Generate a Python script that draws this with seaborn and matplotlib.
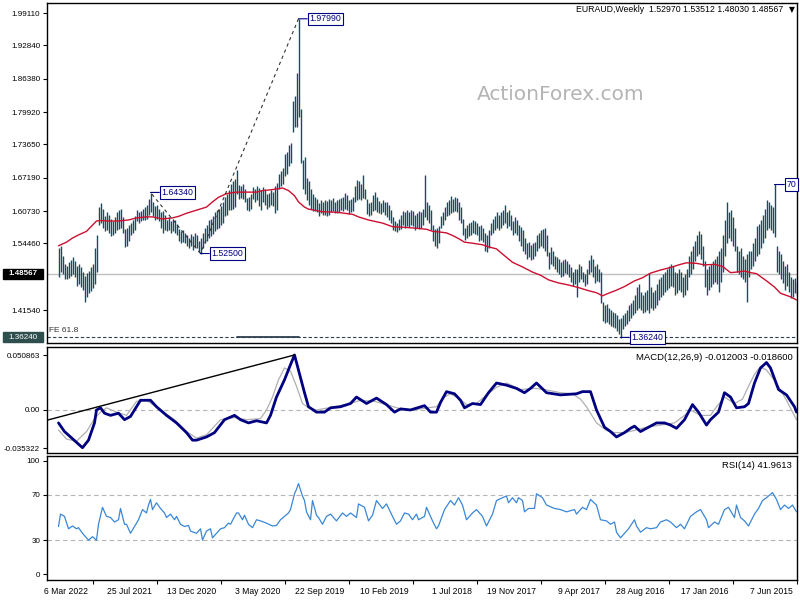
import numpy as np
import pandas as pd
import matplotlib
matplotlib.use("Agg")
import matplotlib.pyplot as plt
import matplotlib.transforms as mtrans
from matplotlib.patches import Rectangle
import seaborn as sns

# ---------------- data (weekly EURAUD, first bar = week of 7 Jun 2015) ----------------
start = pd.Timestamp("2015-06-07")

# weekly highs / lows in thousandths (1470 -> 1.470)
hi_k = [
    1470,1478,1475,1480,1490,1505,1500,1510,1525,1530,
    1540,1659,1615,1620,1625,1628,1612,1600,1590,1582,
    1578,1555,1545,1530,1530,1525,1515,1520,1535,1530,
    1540,1575,1595,1610,1605,1625,1590,1560,1535,1530,
    1520,1515,1510,1505,1500,1495,1510,1540,1562,1568,
    1560,1550,1540,1530,1520,1495,1485,1480,1490,1495,
    1488,1490,1500,1505,1500,1495,1490,1485,1480,1475,
    1465,1455,1450,1460,1487,1455,1450,1445,1450,1465,
    1460,1445,1435,1430,1425,1415,1410,1405,1400,1398,
    1405,1410,1412,1415,1420,1428,1425,1432,1490,1495,
    1505,1500,1515,1522,1512,1495,1485,1490,1500,1505,
    1495,1495,1490,1498,1505,1510,1515,1512,1508,1515,
    1518,1520,1530,1538,1528,1560,1575,1572,1570,1565,
    1560,1548,1545,1542,1548,1545,1555,1570,1576,1580,
    1590,1595,1588,1600,1610,1605,1619,1610,1605,1600,
    1605,1598,1592,1585,1570,1560,1565,1575,1580,1578,
    1585,1588,1590,1586,1584,1580,1575,1592,1615,1625,
    1632,1634,1630,1636,1628,1625,1615,1605,1598,1578,
    1575,1572,1580,1610,1620,1625,1677,1612,1605,1608,
    1603,1600,1608,1610,1606,1610,1605,1608,1600,1592,
    1585,1588,1595,1610,1620,1624,1625,1628,1622,1626,
    1635,1644,1638,1625,1622,1630,1650,1677,1660,1665,
    1668,1655,1635,1630,1628,1638,1642,1635,1632,1630,
    1628,1625,1632,1628,1630,1626,1628,1625,1628,1622,
    1630,1635,1640,1650,1665,1672,1712,1706,1805,1980,
    1875,1830,1820,1740,1735,1722,1718,1690,1685,1680,
    1662,1655,1645,1648,1642,1640,1650,1654,1648,1652,
    1655,1650,1653,1640,1635,1632,1650,1660,1655,1658,
    1687,1670,1665,1660,1648,1640,1635,1625,1618,1612,
    1609,1605,1598,1592,1590,1580,1575,1565,1555,1550,
    1560,1565,1558,1562,1555,1560,1565,1570,1568,1572,
    1582,1590,1592,1588,1595,1590,1600,1608,1605,1612,
    1620,1618,1625,1643,1630,1620,1615,1612,1608,1605,
    1610,1598,1590,1585,1580,1575,1572,1595,1612,1610,
    1605,1595,1588,1592,1600,1605,1598,1612,1622,1615,
    1560,1535,1505,1498,1492,1488,1482,1490,1498,1505,
    1500,1510,1518,1512,1508,1500,1505,1520,1540,1535,
]
lo_k = [
    1445,1448,1440,1438,1450,1462,1455,1468,1475,1485,
    1490,1557,1565,1570,1575,1570,1555,1545,1535,1525,
    1520,1510,1500,1495,1480,1432,1470,1475,1480,1485,
    1490,1530,1540,1550,1555,1545,1520,1490,1470,1450,
    1465,1470,1465,1460,1455,1445,1460,1500,1515,1525,
    1520,1510,1495,1485,1480,1455,1445,1440,1450,1455,
    1448,1445,1460,1462,1458,1455,1450,1445,1440,1435,
    1425,1420,1415,1420,1410,1415,1412,1410,1415,1420,
    1415,1410,1405,1400,1395,1388,1385,1378,1362,1370,
    1375,1380,1382,1385,1388,1392,1390,1395,1430,1470,
    1472,1468,1480,1490,1485,1465,1462,1470,1475,1470,
    1440,1465,1462,1470,1480,1485,1488,1482,1480,1485,
    1490,1495,1500,1505,1495,1520,1530,1535,1540,1535,
    1530,1520,1515,1512,1518,1515,1525,1530,1540,1550,
    1560,1565,1560,1570,1578,1575,1585,1580,1575,1570,
    1575,1570,1565,1560,1535,1528,1530,1548,1552,1550,
    1560,1562,1565,1560,1558,1555,1552,1560,1585,1590,
    1605,1608,1605,1603,1600,1598,1590,1580,1575,1545,
    1535,1540,1550,1570,1585,1590,1595,1580,1575,1572,
    1575,1570,1578,1580,1576,1578,1575,1580,1572,1570,
    1566,1568,1570,1585,1590,1595,1600,1605,1602,1604,
    1605,1610,1608,1600,1598,1602,1630,1632,1628,1630,
    1628,1625,1608,1605,1602,1610,1612,1608,1610,1606,
    1604,1603,1608,1605,1600,1598,1600,1600,1603,1598,
    1605,1608,1608,1612,1620,1628,1640,1650,1700,1790,
    1770,1770,1760,1700,1695,1680,1675,1660,1655,1650,
    1610,1603,1618,1620,1615,1612,1620,1625,1610,1618,
    1628,1625,1630,1612,1608,1610,1625,1630,1632,1630,
    1640,1615,1612,1610,1610,1600,1598,1585,1580,1575,
    1572,1568,1562,1558,1555,1550,1545,1535,1525,1528,
    1535,1538,1532,1540,1536,1540,1545,1548,1545,1550,
    1560,1565,1568,1565,1570,1568,1570,1565,1575,1588,
    1592,1590,1598,1605,1600,1592,1590,1590,1588,1585,
    1588,1570,1565,1560,1550,1540,1538,1565,1575,1572,
    1570,1565,1560,1558,1565,1570,1568,1575,1585,1580,
    1490,1465,1458,1452,1448,1440,1431,1455,1460,1465,
    1462,1480,1485,1482,1478,1475,1476,1485,1490,1480,
]

# moving average (red) read at selected weeks
ma_w = [0,3,8,11,15,20,23,26,30,33,37,41,46,50,55,58,63,68,73,77,81,86,90,94,97,
        100,104,109,114,119,124,128,132,137,142,147,150,154,157,162,166,169,172,175,179,
        182,185,190,197,202,207,214,219,222,230,237,244,246,249,251,254,257,260,264,267,
        270,274,280,285,289,292,295,300,305,309,312,317,322,325,330,334,339,344,348,350,
        352,355,359,362,365,369]
ma_v = [1.435,1.441,1.448,1.460,1.472,1.486,1.488,1.491,1.489,1.488,1.500,1.504,1.503,1.506,1.507,
        1.504,1.498,1.493,1.487,1.478,1.472,1.461,1.454,1.448,1.443,1.449,1.453,1.459,1.464,1.468,
        1.474,1.483,1.489,1.499,1.508,1.524,1.534,1.538,1.542,1.545,1.547,1.554,1.560,1.565,1.567,
        1.568,1.572,1.574,1.576,1.577,1.584,1.590,1.596,1.601,1.605,1.606,1.611,1.615,1.625,1.637,
        1.647,1.652,1.650,1.648,1.647,1.644,1.644,1.644,1.641,1.634,1.625,1.615,1.609,1.603,1.597,
        1.594,1.592,1.596,1.596,1.594,1.590,1.588,1.588,1.589,1.588,1.580,1.568,1.561,1.555,1.547,
        1.540]

# MACD(12,26,9) main line
macd_w = [0,1,5,9,13,15,18,21,24,26,30,33,36,39,43,45,49,52,56,60,63,66,70,75,78,81,83,86,90,93,
          96,100,103,107,110,118,125,130,133,136,140,145,150,154,158,162,166,168,171,175,178,180,
          183,186,193,198,201,205,210,215,220,223,228,233,236,240,244,246,249,251,253,256,260,263,
          265,270,274,278,281,286,291,295,300,302,305,310,315,320,323,328,330,333,336,339,343,346,
          348,350,351,354,357,360,363,366,369]
macd_v = [-0.002,0.003,0.014,0.019,0.039,0.044,0.039,0.025,0.006,0.003,0.002,0.012,0.016,-0.002,
          -0.009,-0.014,-0.002,0.005,-0.009,-0.017,-0.014,-0.012,-0.012,-0.017,-0.020,-0.015,-0.017,
          -0.021,-0.025,-0.020,-0.016,0.000,0.017,0.017,0.015,0.014,0.016,0.025,0.020,0.016,0.020,
          0.023,0.025,0.016,0.005,0.006,0.002,0.009,0.015,0.017,0.007,-0.002,-0.002,0.004,0.000,
          0.001,-0.002,0.005,0.011,0.006,0.012,0.006,0.003,0.002,-0.002,-0.002,0.003,0.016,0.037,
          0.051,0.042,0.028,0.012,-0.005,-0.012,-0.010,-0.012,-0.009,-0.005,-0.009,-0.021,-0.025,
          -0.028,-0.028,-0.021,-0.012,-0.005,0.003,0.009,0.009,0.003,-0.006,-0.009,-0.003,-0.005,
          -0.003,0.002,0.000,-0.012,-0.028,-0.035,-0.030,-0.025,-0.020,-0.012]

# MACD signal line
sig_w = [0,5,10,15,17,19,21,24,27,31,36,40,43,48,53,56,61,68,75,81,86,91,95,100,105,108,112,118,
         126,131,138,145,150,155,160,165,169,173,176,180,185,191,198,205,211,218,223,231,240,244,
         247,250,253,256,259,262,265,268,275,281,288,295,300,305,311,318,325,330,335,340,345,348,
         351,355,360,365,369]
sig_v = [-0.009,0.009,0.025,0.037,0.039,0.038,0.033,0.022,0.010,0.006,0.012,0.003,-0.005,-0.005,
         0.000,-0.005,-0.012,-0.014,-0.016,-0.019,-0.021,-0.021,-0.019,-0.012,0.003,0.010,0.015,
         0.016,0.019,0.020,0.019,0.025,0.021,0.014,0.006,0.005,0.011,0.015,0.012,0.003,0.002,
         0.000,0.001,0.005,0.008,0.009,0.006,0.003,0.000,0.002,0.006,0.022,0.036,0.039,0.028,
         0.012,0.000,-0.008,-0.009,-0.007,-0.009,-0.023,-0.026,-0.020,-0.009,0.000,0.009,0.008,
         -0.005,-0.002,0.002,-0.002,-0.008,-0.020,-0.029,-0.027,-0.0186]

# RSI(14)
rsi_w = [0,2,4,6,8,10,12,15,17,19,21,24,26,28,30,31,34,36,39,41,44,45,48,50,53,56,58,60,63,65,
         68,70,73,75,78,80,81,84,86,88,90,91,93,95,98,100,103,105,107,110,111,115,118,121,125,127,
         130,131,134,136,137,139,140,142,144,145,147,150,152,155,157,160,162,165,167,169,171,173,
         176,179,180,182,185,186,189,190,192,194,196,198,200,202,205,207,210,212,214,216,219,220,
         223,225,227,230,233,235,237,239,240,242,243,245,246,247,249,250,251,253,254,256,258,260,
         262,265,268,270,272,274,276,277,279,280,283,284,286,288,290,292,293,295,297,298,300,303,
         304,306,308,310,311,313,315,316,318,320,322,323,324,325,327,329,331,333,335,336,338,339,
         341,343,345,347,349,350,352,354,355,357,359,360,362,364,366,368,369]
rsi_v = [55,61,58,61,57,66,72,67.5,65,58,53,42.5,47,50,61,50,59,57,44,46,41,48,57,55,51,40,44,41,
         46,48,46,41,40,41,37,42.5,48,40,36,32,37,46,44,47,48,61,66,57,59,53,57,55,57,58,61,67.5,
         71,58,58,55,65,67.5,63,67.5,63,69,67.5,65,53,42.5,51,57,54,48,61,67.5,61,65,57,42.5,40,
         47,59,51,48,53,48,53,54,47,44,51,62,58,65,52,47,59,62,50,54,51,54,47,53,51,44,50,52,65,
         48,55,65,69,80,75,71,57,54,51,48,43,42.5,45,47,48,41,44,52,48,54,54,44,45,41,40,36,32,
         40,38,30,40,36,38,43,42,44,51,48,53,50,54,58,63,57,66,61,54,57,48,42,36,44,44,58,48,46,
         50,51,59,44,30,33,30,32,36,41,40,42.5,40,51,53,42]

tick_dates = ["2015-06-07", "2016-01-17", "2016-08-28", "2017-04-09", "2017-11-19", "2018-07-01",
              "2019-02-10", "2019-09-22", "2020-05-03", "2020-12-13", "2021-07-25", "2022-03-06"]
tick_labels = ["7 Jun 2015", "17 Jan 2016", "28 Aug 2016", "9 Apr 2017", "19 Nov 2017", "1 Jul 2018",
               "10 Feb 2019", "22 Sep 2019", "3 May 2020", "13 Dec 2020", "25 Jul 2021", "6 Mar 2022"]

price_ticks = [1.99110, 1.92840, 1.86380, 1.79920, 1.73650, 1.67190, 1.60730, 1.54460, 1.41540]
last_price = 1.48567
fe_level = 1.36240
peak = (249, 1.97990)
low_a = (298, 1.52500)
high_b = (323, 1.64340)
low_c = (88, 1.36240)
spike = (11, 1.65870)

# ---------------- styling ----------------
sns.set_theme(style="white")
plt.rcParams["font.family"] = ["Liberation Sans", "DejaVu Sans"]
plt.rcParams["axes.edgecolor"] = "black"
plt.rcParams["axes.linewidth"] = 1.0

BAR = "#1d4b5c"
MA_C = "#cc1030"
NAVY = "#000080"

hi = np.array(hi_k) / 1000.0
lo = np.array(lo_k) / 1000.0
week = np.arange(len(hi))

W, H = 800, 600
fig = plt.figure(figsize=(8, 6), dpi=100)
fig.patch.set_facecolor("white")


def rect(x0, y0, x1, y1):
    return [x0 / W, 1 - y1 / H, (x1 - x0) / W, (y1 - y0) / H]


ax1 = fig.add_axes(rect(47, 3, 797, 343))
ax2 = fig.add_axes(rect(47, 347, 797, 453))
ax3 = fig.add_axes(rect(47, 456, 797, 580))

for ax in (ax1, ax2, ax3):
    ax.set_xlim(374.75, -0.25)   # mirrored time axis (newest on the left)
    ax.set_facecolor("white")
    for s in ax.spines.values():
        s.set_color("black")
        s.set_linewidth(1.0)
    ax.tick_params(axis="y", left=True, right=False, direction="out", length=3, width=0.8,
                   labelsize=5.8, pad=2, colors="black")
    ax.tick_params(axis="x", bottom=False, labelbottom=False)
    ax.set_xlabel("")
    ax.set_ylabel("")

# ---------------- price panel ----------------
ax1.set_ylim(1.3516, 2.0105)
ax1.vlines(week, lo, hi, color=BAR, lw=1.0)
sns.lineplot(x=ma_w, y=ma_v, ax=ax1, color=MA_C, lw=1.0, estimator=None)
ax1.axhline(last_price, color="#c0c0c0", lw=1.0, zorder=0)
ax1.axhline(fe_level, color="#2f3f4f", lw=0.8, ls=(0, (3, 2)))
ax1.plot([peak[0], 280], [fe_level, fe_level], color="#2f3f4f", lw=1.3)
ax1.plot([peak[0], low_a[0]], [peak[1], low_a[1]], color="#333333", lw=0.8, ls=(0, (3, 3)))
ax1.plot([low_a[0], high_b[0]], [low_a[1], high_b[1]], color="#333333", lw=0.8, ls=(0, (3, 3)))
ax1.set_yticks(price_ticks)
ax1.set_yticklabels([f"{v:.5f}" for v in price_ticks])
ax1.set_xlabel("")
ax1.set_ylabel("")

# axis price boxes (left margin, drawn in figure-x / data-y coordinates)
blend_fig = mtrans.blended_transform_factory(fig.transFigure, ax1.transData)
px_h = (2.0105 - 1.3516) / 340.0   # price per pixel
for val, fc in ((last_price, "black"), (fe_level, "#2f4f4f")):
    fig_box = Rectangle((3 / W, val - 5 * px_h), 40 / W, 10 * px_h, transform=blend_fig,
                        fc=fc, ec=fc, clip_on=False, zorder=5)
    ax1.add_artist(fig_box)
    ax1.text(23 / W, val, f"{val:.5f}", transform=blend_fig, ha="center", va="center",
             fontsize=5.8, color="white", fontweight="bold" if fc == "black" else "normal",
             clip_on=False, zorder=6)
fig.text(49 / W, 1 - 331 / H, "FE 61.8", fontsize=6, color="#333333", ha="left", va="center")


def plabel(pt, txt, dx=11):
    ax1.annotate(txt, xy=pt, xytext=(dx, 0), textcoords="offset pixels", ha="left", va="center",
                 fontsize=6.3, color=NAVY, annotation_clip=False,
                 bbox=dict(boxstyle="square,pad=0.2", fc="white", ec=NAVY, lw=0.8),
                 arrowprops=dict(arrowstyle="-", color=NAVY, lw=0.8, shrinkA=0, shrinkB=0))


plabel(peak, f"{peak[1]:.5f}")
plabel(high_b, f"{high_b[1]:.5f}")
plabel(low_a, f"{low_a[1]:.5f}")
plabel(low_c, f"{low_c[1]:.5f}")
plabel(spike, "70", dx=12)

fig.text(561 / W, 1 - 95 / H, "ActionForex.com", ha="center", va="center", fontsize=14.5,
         color="#b4b4b4", family="DejaVu Sans")
fig.text(783 / W, 1 - 10 / H, "EURAUD,Weekly  1.52970 1.53512 1.48030 1.48567", ha="right",
         va="center", fontsize=6.3, color="black")
fig.text(795 / W, 1 - 10 / H, "\u25bc", ha="right", va="center", fontsize=5.5, color="black",
         family="DejaVu Sans")

# ---------------- MACD panel ----------------
ax2.set_ylim(-0.0399, 0.0584)
ax2.axhline(0.0, color="#b4b4b4", lw=0.8, ls=(0, (4, 3)), zorder=0)
sns.lineplot(x=sig_w, y=sig_v, ax=ax2, color="#b0b0b0", lw=0.9, estimator=None)
sns.lineplot(x=macd_w, y=macd_v, ax=ax2, color=NAVY, lw=2.0, estimator=None)
ax2.plot([374.75, 251], [-0.0095, 0.051], color="black", lw=1.0)
ax2.set_yticks([0.050863, 0.0, -0.035322])
ax2.set_yticklabels(["0.050863", "0.00", "-0.035322"])
ax2.set_xlabel("")
ax2.set_ylabel("")
fig.text(793 / W, 1 - 357 / H, "MACD(12,26,9) -0.012003 -0.018600", ha="right", va="center",
         fontsize=6.8, color="black")

# ---------------- RSI panel ----------------
ax3.set_ylim(-5.3, 104.4)
for lvl in (30, 70):
    ax3.axhline(lvl, color="#b4b4b4", lw=0.8, ls=(0, (4, 3)), zorder=0)
sns.lineplot(x=rsi_w, y=rsi_v, ax=ax3, color="#3a87d6", lw=0.9, estimator=None)
ax3.set_yticks([0, 30, 70, 100])
ax3.set_yticklabels(["0", "30", "70", "100"])
ax3.set_ylabel("")
fig.text(792 / W, 1 - 466 / H, "RSI(14) 41.9613", ha="right", va="center", fontsize=6.8,
         color="black")

tick_pos = [(pd.Timestamp(d) - start).days / 7 for d in tick_dates]
ax3.set_xticks(tick_pos)
ax3.set_xticklabels(tick_labels)
ax3.set_xlabel("")
ax3.tick_params(axis="x", bottom=True, labelbottom=True, direction="out", length=3, width=0.8,
                labelsize=6.2, pad=2, colors="black")
shift = mtrans.ScaledTranslation(-3 / 72, 0, fig.dpi_scale_trans)
for lab in ax3.get_xticklabels():
    lab.set_ha("right")
    lab.set_transform(lab.get_transform() + shift)

fig.savefig("out.png", dpi=100)
